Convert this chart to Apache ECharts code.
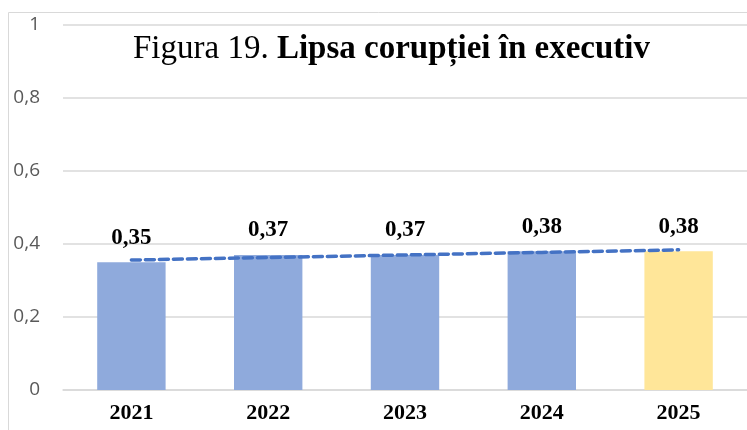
<!DOCTYPE html>
<html><head><meta charset="utf-8">
<script src="https://cdn.jsdelivr.net/npm/echarts@6/dist/echarts.min.js"></script>
<style>html,body{margin:0;padding:0;background:#fff}#c{width:747px;height:430px}</style>
</head><body><div id="c"></div>
<script>
const categories = ['2021','2022','2023','2024','2025'];
const values = [0.35, 0.37, 0.37, 0.38, 0.38];
const trendValues = [0.356, 0.363, 0.370, 0.377, 0.384];
const yTicks = [0, 0.2, 0.4, 0.6, 0.8, 1];
const barColors = ['#8FAADC','#8FAADC','#8FAADC','#8FAADC','#FFE699'];
const fmt = v => String(v).replace('.', ',');
const serif = '"Liberation Serif", "Times New Roman", serif';

const chart = echarts.init(document.getElementById('c'));
chart.setOption({
  animation: false,
  graphic: [{type:'rect', left:6, top:10, shape:{width:760, height:440}, style:{fill:'none', stroke:'#D9D9D9', lineWidth:1}, z:-1}],
  title: {
    text: '{n|Figura 19. }{b|Lipsa corupției în executiv}',
    left: 128, top: 28,
    textStyle: {fontWeight: 'normal', rich: {
      n: {fontFamily: serif, fontSize: 33, fontWeight:'normal', color:'#000'},
      b: {fontFamily: serif, fontSize: 33, fontWeight:'bold', color:'#000'}
    }}
  },
  grid: {left: 63, right: 0, top: 25, bottom: 40},
  xAxis: {
    type: 'category', data: categories,
    axisLine: {lineStyle: {color:'#D9D9D9', width: 1.5}},
    axisTick: {show:false},
    axisLabel: {fontFamily: serif, fontWeight:'bold', fontSize: 22, color:'#000', margin: 12}
  },
  yAxis: {
    type: 'value', min: 0, max: 1, interval: 0.2,
    axisLine: {show:false}, axisTick: {show:false},
    splitLine: {lineStyle: {color:'#D9D9D9', width: 1.5}},
    axisLabel: {fontFamily:'"Open Sans", Arial, sans-serif', fontSize: 19, color:'#595959', margin: 23,
      formatter: v => yTicks.includes(Math.round(v*10)/10) ? fmt(Math.round(v*10)/10) : ''}
  },
  series: [{
    type: 'bar', barWidth: '50%',
    data: values.map((v,i) => ({value: v, itemStyle: {color: barColors[i]}})),
    label: {show: true, position: 'top', distance: 13, formatter: p => fmt(p.value),
      fontFamily: serif, fontWeight: 'bold', fontSize: 23, color: '#000'}
  }, {
    type: 'line', data: trendValues, symbol: 'none', z: 3,
    lineStyle: {color: '#4472C4', width: 3.5, type: [9, 5], cap: 'round'}
  }]
});
</script></body></html>
